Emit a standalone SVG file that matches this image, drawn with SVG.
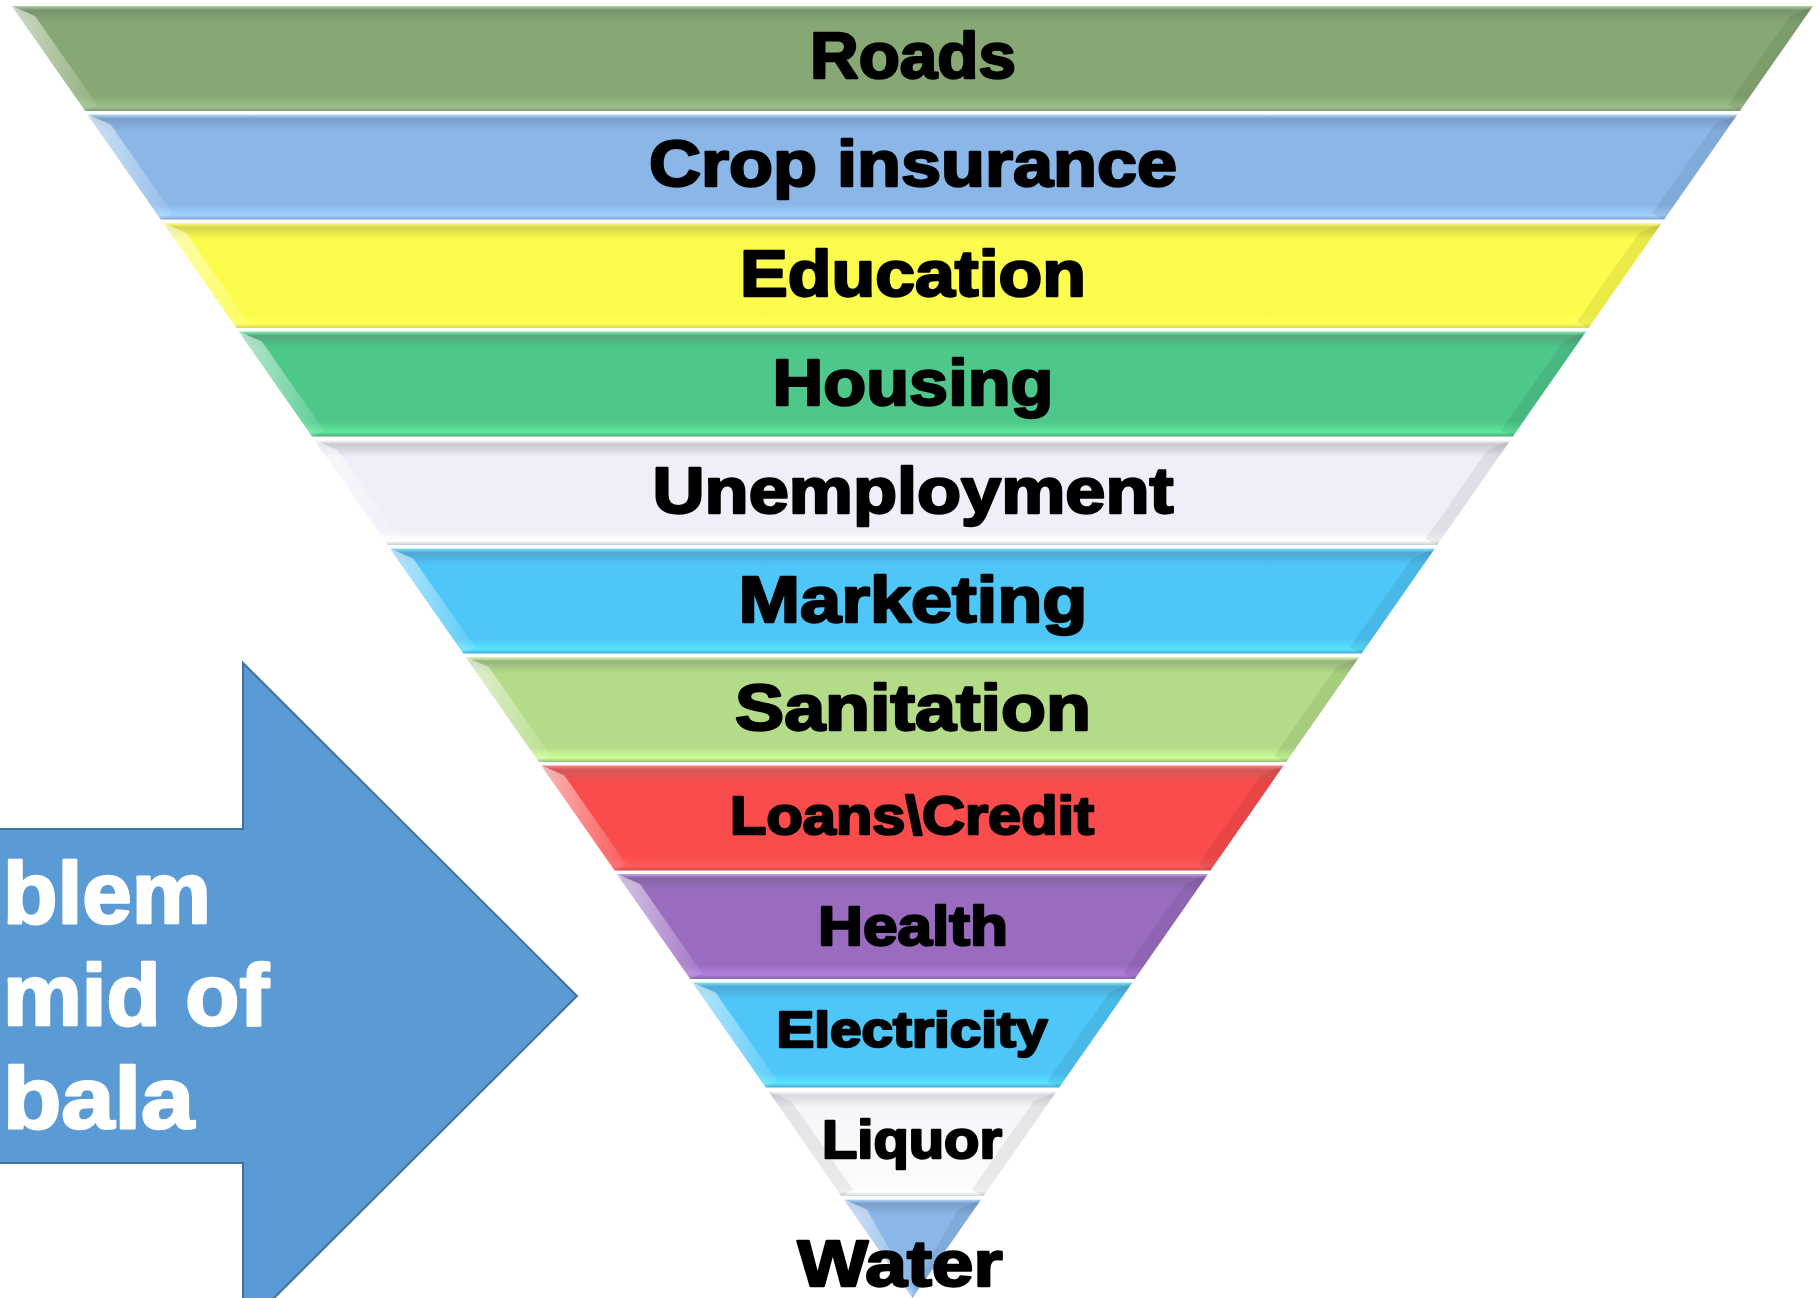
<svg xmlns="http://www.w3.org/2000/svg" width="1819" height="1298" viewBox="0 0 1819 1298">
<style>
.lbl{font-family:"Liberation Sans",Arial,sans-serif;font-weight:bold;fill:#000;stroke:#000;stroke-width:2.4;stroke-linejoin:round;text-anchor:middle}
.wlbl{font-family:"Liberation Sans",Arial,sans-serif;font-weight:bold;fill:#fff;stroke:#fff;stroke-width:2.6;stroke-linejoin:round;text-anchor:end;font-size:88px}
.bl{fill:url(#lb)}
.br{fill:#000;fill-opacity:0.07}
</style>
<defs>
<linearGradient id="lb" x1="0" y1="0" x2="1" y2="0">
<stop offset="0" stop-color="#fff" stop-opacity="0.6"/>
<stop offset="1" stop-color="#fff" stop-opacity="0.08"/>
</linearGradient>
<linearGradient id="gRoads" x1="0" y1="0" x2="0" y2="1">
<stop offset="0" stop-color="#B2D0A2"/><stop offset="0.04" stop-color="#7A9470"/><stop offset="0.16" stop-color="#87A874"/><stop offset="0.86" stop-color="#87A874"/><stop offset="0.96" stop-color="#9CC088"/><stop offset="1" stop-color="#7F9A70"/>
</linearGradient>
<linearGradient id="gBlue" x1="0" y1="0" x2="0" y2="1">
<stop offset="0" stop-color="#B0D8FF"/><stop offset="0.04" stop-color="#7A9EC8"/><stop offset="0.16" stop-color="#8AB7E8"/><stop offset="0.86" stop-color="#8AB7E8"/><stop offset="0.96" stop-color="#A0D0FF"/><stop offset="1" stop-color="#7FA2CC"/>
</linearGradient>
<linearGradient id="gYellow" x1="0" y1="0" x2="0" y2="1">
<stop offset="0" stop-color="#FFFF88"/><stop offset="0.04" stop-color="#D6D64A"/><stop offset="0.16" stop-color="#FCFC4C"/><stop offset="0.86" stop-color="#FCFC4C"/><stop offset="0.96" stop-color="#FFFF58"/><stop offset="1" stop-color="#D8D84C"/>
</linearGradient>
<linearGradient id="gGreen" x1="0" y1="0" x2="0" y2="1">
<stop offset="0" stop-color="#80F0B0"/><stop offset="0.04" stop-color="#56A87E"/><stop offset="0.16" stop-color="#4DC88A"/><stop offset="0.86" stop-color="#4DC88A"/><stop offset="0.96" stop-color="#5EE89E"/><stop offset="1" stop-color="#4AAA7C"/>
</linearGradient>
<linearGradient id="gLav" x1="0" y1="0" x2="0" y2="1">
<stop offset="0" stop-color="#FFFFFF"/><stop offset="0.04" stop-color="#C8C8D0"/><stop offset="0.16" stop-color="#F0EEF8"/><stop offset="0.86" stop-color="#F0EEF8"/><stop offset="0.96" stop-color="#FFFFFF"/><stop offset="1" stop-color="#CCCCD4"/>
</linearGradient>
<linearGradient id="gSky" x1="0" y1="0" x2="0" y2="1">
<stop offset="0" stop-color="#80E4FF"/><stop offset="0.04" stop-color="#50A8D4"/><stop offset="0.16" stop-color="#4EC6F8"/><stop offset="0.86" stop-color="#4EC6F8"/><stop offset="0.96" stop-color="#58E4FF"/><stop offset="1" stop-color="#4AA8D4"/>
</linearGradient>
<linearGradient id="gLime" x1="0" y1="0" x2="0" y2="1">
<stop offset="0" stop-color="#DDFFB0"/><stop offset="0.04" stop-color="#98B47E"/><stop offset="0.16" stop-color="#B4DC88"/><stop offset="0.86" stop-color="#B4DC88"/><stop offset="0.96" stop-color="#CCFF99"/><stop offset="1" stop-color="#9CBC80"/>
</linearGradient>
<linearGradient id="gRed" x1="0" y1="0" x2="0" y2="1">
<stop offset="0" stop-color="#FF8080"/><stop offset="0.04" stop-color="#D45858"/><stop offset="0.16" stop-color="#FA4C4C"/><stop offset="0.86" stop-color="#FA4C4C"/><stop offset="0.96" stop-color="#FF5A5A"/><stop offset="1" stop-color="#D04C4C"/>
</linearGradient>
<linearGradient id="gPurple" x1="0" y1="0" x2="0" y2="1">
<stop offset="0" stop-color="#C8A0F0"/><stop offset="0.04" stop-color="#8664A6"/><stop offset="0.16" stop-color="#9A6CC0"/><stop offset="0.86" stop-color="#9A6CC0"/><stop offset="0.96" stop-color="#B07EDE"/><stop offset="1" stop-color="#8664A6"/>
</linearGradient>
<linearGradient id="gWhite" x1="0" y1="0" x2="0" y2="1">
<stop offset="0" stop-color="#FFFFFF"/><stop offset="0.04" stop-color="#D8D8E0"/><stop offset="0.16" stop-color="#F6F6FA"/><stop offset="0.86" stop-color="#FBFBFD"/><stop offset="0.96" stop-color="#FFFFFF"/><stop offset="1" stop-color="#D4D4DC"/>
</linearGradient>
</defs>

<rect x="0" y="0" width="1819" height="1298" fill="#fff"/>

<g id="arrow">
<polygon points="-10,829 243,829 243,663 577,996 243,1329 243,1163 -10,1163" fill="#5B9BD5" stroke="#41719C" stroke-width="2"/>
<text class="wlbl" x="211" y="923" textLength="208" lengthAdjust="spacingAndGlyphs">blem</text>
<text class="wlbl" x="269" y="1025" textLength="266" lengthAdjust="spacingAndGlyphs">mid of</text>
<text class="wlbl" x="194" y="1128" textLength="191" lengthAdjust="spacingAndGlyphs">bala</text>
</g>

<g id="connectors"></g>

<g id="band-roads">
<polygon fill="url(#gRoads)" points="12,6 1813,6 1739.8,111 85.2,111"/>
<polygon class="bl" points="12,6 35,16 97.2,105 85.2,111"/>
<polygon class="br" points="1813,6 1790,16 1727.8,105 1739.8,111"/>
<text class="lbl" x="913" y="78" font-size="64" textLength="206" lengthAdjust="spacingAndGlyphs">Roads</text>
</g>
<g id="band-crop">
<polygon fill="url(#gBlue)" points="87.6,114.5 1737.4,114.5 1664.2,219.5 160.8,219.5"/>
<polygon class="bl" points="87.6,114.5 110.6,124.5 172.8,213.5 160.8,219.5"/>
<polygon class="br" points="1737.4,114.5 1714.4,124.5 1652.2,213.5 1664.2,219.5"/>
<text class="lbl" x="913" y="186" font-size="64" textLength="528" lengthAdjust="spacingAndGlyphs">Crop insurance</text>
</g>
<g id="band-education">
<polygon fill="url(#gYellow)" points="163.2,223 1661.8,223 1588.6,328 236.4,328"/>
<polygon class="bl" points="163.2,223 186.2,233 248.4,322 236.4,328"/>
<polygon class="br" points="1661.8,223 1638.8,233 1576.6,322 1588.6,328"/>
<text class="lbl" x="913" y="296" font-size="64" textLength="346" lengthAdjust="spacingAndGlyphs">Education</text>
</g>
<g id="band-housing">
<polygon fill="url(#gGreen)" points="238.9,331.5 1586.1,331.5 1512.9,436.5 312.1,436.5"/>
<polygon class="bl" points="238.9,331.5 261.9,341.5 324.1,430.5 312.1,436.5"/>
<polygon class="br" points="1586.1,331.5 1563.1,341.5 1500.9,430.5 1512.9,436.5"/>
<text class="lbl" x="913" y="405" font-size="64" textLength="281" lengthAdjust="spacingAndGlyphs">Housing</text>
</g>
<g id="band-unemployment">
<polygon fill="url(#gLav)" points="314.5,440 1510.5,440 1437.3,545 387.7,545"/>
<polygon class="bl" points="314.5,440 337.5,450 399.7,539 387.7,545"/>
<polygon class="br" points="1510.5,440 1487.5,450 1425.3,539 1437.3,545"/>
<text class="lbl" x="913" y="513" font-size="64" textLength="521" lengthAdjust="spacingAndGlyphs">Unemployment</text>
</g>
<g id="band-marketing">
<polygon fill="url(#gSky)" points="390.1,548.5 1434.9,548.5 1361.7,653.5 463.3,653.5"/>
<polygon class="bl" points="390.1,548.5 413.1,558.5 475.3,647.5 463.3,653.5"/>
<polygon class="br" points="1434.9,548.5 1411.9,558.5 1349.7,647.5 1361.7,653.5"/>
<text class="lbl" x="913" y="622" font-size="64" textLength="349" lengthAdjust="spacingAndGlyphs">Marketing</text>
</g>
<g id="band-sanitation">
<polygon fill="url(#gLime)" points="465.7,657 1359.3,657 1286.1,762 538.9,762"/>
<polygon class="bl" points="465.7,657 488.7,667 550.9,756 538.9,762"/>
<polygon class="br" points="1359.3,657 1336.3,667 1274.1,756 1286.1,762"/>
<text class="lbl" x="913" y="730" font-size="64" textLength="356" lengthAdjust="spacingAndGlyphs">Sanitation</text>
</g>
<g id="band-loans">
<polygon fill="url(#gRed)" points="541.4,765.5 1283.6,765.5 1210.4,870.5 614.6,870.5"/>
<polygon class="bl" points="541.4,765.5 564.4,775.5 626.6,864.5 614.6,870.5"/>
<polygon class="br" points="1283.6,765.5 1260.6,775.5 1198.4,864.5 1210.4,870.5"/>
<text class="lbl" x="912" y="834" font-size="54" textLength="364" lengthAdjust="spacingAndGlyphs">Loans\Credit</text>
</g>
<g id="band-health">
<polygon fill="url(#gPurple)" points="617,874 1208,874 1134.8,979 690.2,979"/>
<polygon class="bl" points="617,874 640,884 702.2,973 690.2,979"/>
<polygon class="br" points="1208,874 1185,884 1122.8,973 1134.8,979"/>
<text class="lbl" x="913" y="945" font-size="56" textLength="190" lengthAdjust="spacingAndGlyphs">Health</text>
</g>
<g id="band-electricity">
<polygon fill="url(#gSky)" points="692.6,982.5 1132.4,982.5 1059.2,1087.5 765.8,1087.5"/>
<polygon class="bl" points="692.6,982.5 715.6,992.5 777.8,1081.5 765.8,1087.5"/>
<polygon class="br" points="1132.4,982.5 1109.4,992.5 1047.2,1081.5 1059.2,1087.5"/>
<text class="lbl" x="912" y="1047" font-size="50" textLength="271" lengthAdjust="spacingAndGlyphs">Electricity</text>
</g>
<g id="band-liquor">
<polygon fill="url(#gWhite)" points="768.2,1091 1056.8,1091 983.6,1196 841.4,1196"/>
<polygon class="br" points="768.2,1091 791.2,1101 853.4,1190 841.4,1196"/>
<polygon class="br" points="1056.8,1091 1033.8,1101 971.6,1190 983.6,1196"/>
<text class="lbl" x="912" y="1158" font-size="54" textLength="180" lengthAdjust="spacingAndGlyphs">Liquor</text>
</g>
<g id="band-water">
<polygon fill="url(#gBlue)" points="843.9,1199.5 981.1,1199.5 912.5,1298"/>
<polygon class="bl" points="843.9,1199.5 866.9,1209.5 912.5,1290 912.5,1298"/>
<polygon class="br" points="981.1,1199.5 958.1,1209.5 912.5,1290 912.5,1298"/>
<text class="lbl" x="900" y="1286" font-size="64" textLength="205" lengthAdjust="spacingAndGlyphs">Water</text>
</g>
</svg>
